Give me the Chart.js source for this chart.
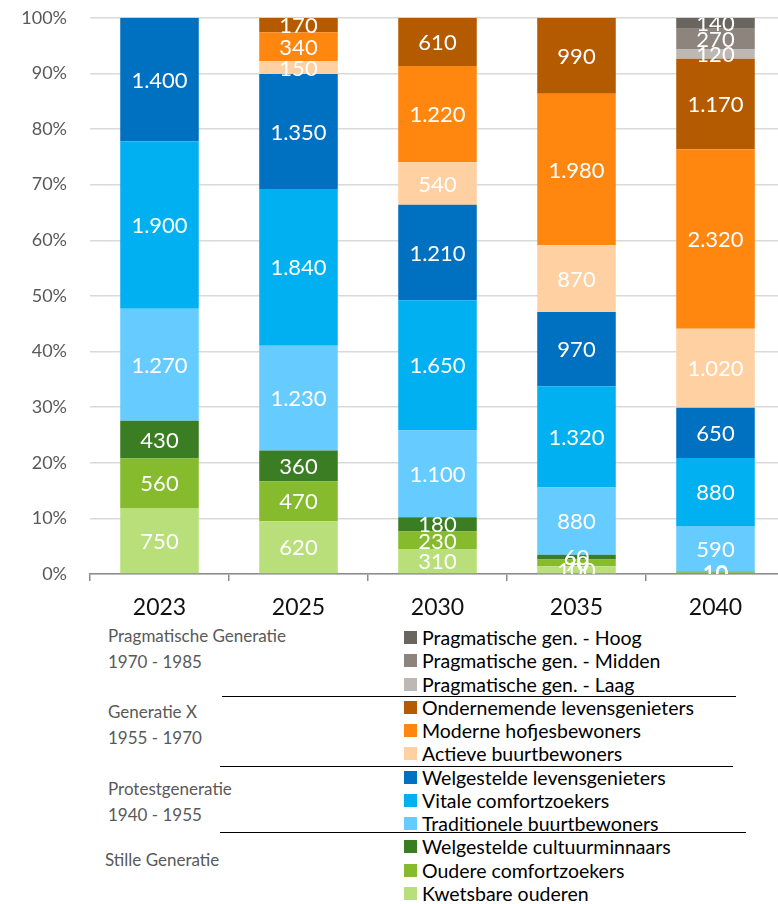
<!DOCTYPE html>
<html>
<head>
<meta charset="utf-8">
<script src="https://cdn.jsdelivr.net/npm/chart.js@4.4.1/dist/chart.umd.min.js"></script>
<style>
  html, body { margin: 0; padding: 0; background: #fff; overflow: hidden; }
  #wrap { position: relative; width: 778px; height: 904px; overflow: hidden; }
  #c { position: absolute; left: 0; top: -16px; }
  .grp { position: absolute; font-family: Lato, sans-serif; font-size: 17px; color: #595959; line-height: 20px; white-space: nowrap; }
  .item { position: absolute; left: 404px; height: 23px; font-family: Lato, sans-serif; font-size: 19.5px; color: #000; white-space: nowrap; line-height: 23px; }
  .item span.sq { position: absolute; left: 0; top: 5px; width: 13px; height: 13px; }
  .item span.tx { position: absolute; left: 18px; top: 0; }
  .rule { position: absolute; height: 0; border-top: 1.6px solid #000; }
</style>
</head>
<body>
<div id="wrap">
  <canvas id="c" width="800" height="641"></canvas>
  <div id="legend"></div>
</div>
<script>
// categories
const years = ['2023', '2025', '2030', '2035', '2040'];

// series values (absolute counts), bottom of the stack first
const kwetsbareOuderen          = [750, 620, 310, 100, 10];
const ouderComfortzoekers       = [560, 470, 230, 90, 10];
const welgesteldeCultuurminnaars = [430, 360, 180, 60, 10];
const traditioneleBuurtbewoners = [1270, 1230, 1100, 880, 590];
const vitaleComfortzoekers      = [1900, 1840, 1650, 1320, 880];
const welgesteldeLevensgenieters = [1400, 1350, 1210, 970, 650];
const actieveBuurtbewoners      = [0, 150, 540, 870, 1020];
const moderneHofjesbewoners     = [0, 340, 1220, 1980, 2320];
const ondernemendeLevensgenieters = [0, 170, 610, 990, 1170];
const pragmatischLaag           = [0, 0, 0, 0, 120];
const pragmatischMidden         = [0, 0, 0, 0, 270];
const pragmatischHoog           = [0, 0, 0, 0, 140];

// y tick labels
const yTicks = ['0%', '10%', '20%', '30%', '40%', '50%', '60%', '70%', '80%', '90%', '100%'];

const seriesNames = [
  'Kwetsbare ouderen', 'Oudere comfortzoekers', 'Welgestelde cultuurminnaars',
  'Traditionele buurtbewoners', 'Vitale comfortzoekers', 'Welgestelde levensgenieters',
  'Actieve buurtbewoners', 'Moderne hofjesbewoners', 'Ondernemende levensgenieters',
  'Pragmatische gen. - Laag', 'Pragmatische gen. - Midden', 'Pragmatische gen. - Hoog'
];
const seriesValues = [
  kwetsbareOuderen, ouderComfortzoekers, welgesteldeCultuurminnaars,
  traditioneleBuurtbewoners, vitaleComfortzoekers, welgesteldeLevensgenieters,
  actieveBuurtbewoners, moderneHofjesbewoners, ondernemendeLevensgenieters,
  pragmatischLaag, pragmatischMidden, pragmatischHoog
];
const seriesColors = [
  '#b9df7a', '#85bb2c', '#3b7d23',
  '#66ccff', '#00b0f0', '#0070c0',
  '#ffd0a2', '#ff8710', '#b45a00',
  '#bdb8b4', '#8c847d', '#6b6560'
];

// generation groups for the legend
const groups = [
  { lines: ['Pragmatische Generatie', '1970 - 1985'], top: 626, left: 108 },
  { lines: ['Generatie X', '1955 - 1970'], top: 702, left: 108 },
  { lines: ['Protestgeneratie', '1940 - 1955'], top: 779, left: 108 },
  { lines: ['Stille Generatie'], top: 850, left: 105 }
];

const totals = years.map((y, j) => seriesValues.reduce((s, arr) => s + arr[j], 0));

function fmt(n) {
  return String(n).replace(/\B(?=(\d{3})+(?!\d))/g, '.');
}

const datasets = seriesNames.map((name, i) => ({
  label: name,
  data: seriesValues[i].map((v, j) => v / totals[j] * 100),
  backgroundColor: seriesColors[i],
  borderWidth: 0,
  barPercentage: 1,
  categoryPercentage: 0.565
}));

const valueLabels = {
  id: 'valueLabels',
  afterDatasetsDraw(chart) {
    const ctx = chart.ctx;
    const a = chart.chartArea;
    ctx.save();
    ctx.beginPath();
    ctx.rect(a.left, a.top, a.right - a.left, a.bottom - a.top);
    ctx.clip();
    ctx.fillStyle = '#ffffff';
    ctx.font = '22px Lato, sans-serif';
    ctx.textAlign = 'center';
    ctx.textBaseline = 'middle';
    chart.data.datasets.forEach((ds, i) => {
      const meta = chart.getDatasetMeta(i);
      meta.data.forEach((bar, j) => {
        const v = seriesValues[i][j];
        if (!v) return;
        const p = bar.getProps(['x', 'y', 'base'], true);
        ctx.fillText(fmt(v), p.x, (p.y + p.base) / 2 + 1);
      });
    });
    ctx.restore();
  }
};

new Chart(document.getElementById('c').getContext('2d'), {
  type: 'bar',
  data: { labels: years, datasets: datasets },
  options: {
    responsive: false,
    animation: false,
    layout: { padding: { top: 1, right: 15, left: 0, bottom: 0 } },
    plugins: {
      legend: { display: false },
      tooltip: { enabled: false }
    },
    scales: {
      x: {
        stacked: true,
        afterFit: (s) => { s.height = 51; },
        grid: { display: true, drawOnChartArea: false, drawTicks: true, tickLength: 7, color: '#8c8c8c', lineWidth: 1.5, offset: true },
        border: { color: '#8c8c8c', width: 1.5 },
        ticks: { color: '#111', font: { family: 'Lato', size: 23 }, padding: 13 }
      },
      y: {
        stacked: true,
        min: 0,
        max: 100,
        afterFit: (s) => { s.width = 90; },
        grid: { color: '#d9d9d9', lineWidth: 1.5, drawTicks: false },
        border: { display: false },
        ticks: {
          stepSize: 10,
          padding: 23,
          color: '#595959',
          font: { family: 'Lato', size: 18 },
          callback: (v) => yTicks[Math.round(v / 10)]
        }
      }
    }
  },
  plugins: [valueLabels]
});

// legend: top series first
const legend = document.getElementById('legend');
for (let k = 0; k < seriesNames.length; k++) {
  const i = seriesNames.length - 1 - k;
  const el = document.createElement('div');
  el.className = 'item';
  el.style.top = (626 + k * 23.27) + 'px';
  el.innerHTML = '<span class="sq" style="background:' + seriesColors[i] + '"></span><span class="tx"></span>';
  el.querySelector('.tx').textContent = seriesNames[i];
  legend.appendChild(el);
}
groups.forEach(g => {
  const el = document.createElement('div');
  el.className = 'grp';
  el.style.top = g.top + 'px';
  el.style.left = g.left + 'px';
  el.innerHTML = g.lines.map(t => '<div style="height:26px">' + t + '</div>').join('');
  legend.appendChild(el);
});
// separator lines between generations
[[222, 696, 514], [220, 766, 513], [220, 832, 526]].forEach(r => {
  const el = document.createElement('div');
  el.className = 'rule';
  el.style.left = r[0] + 'px';
  el.style.top = r[1] + 'px';
  el.style.width = r[2] + 'px';
  legend.appendChild(el);
});
</script>
</body>
</html>
